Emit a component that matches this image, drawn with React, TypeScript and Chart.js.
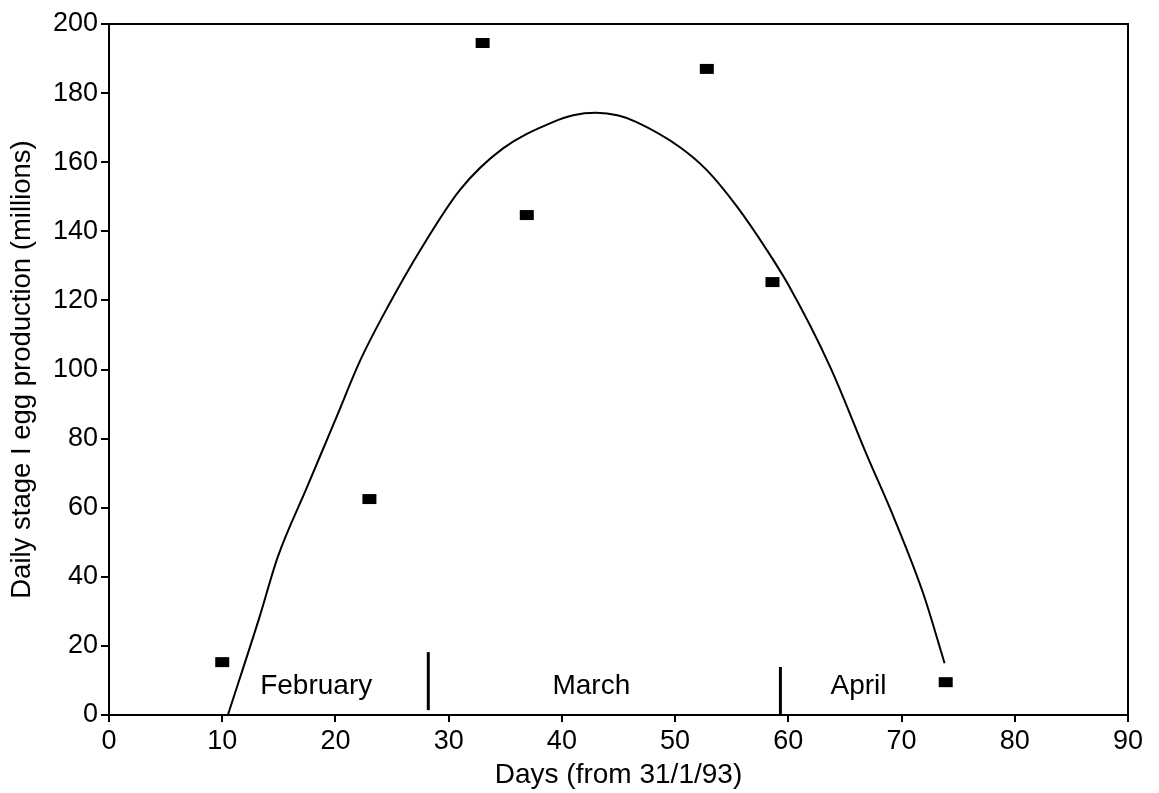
import React, { useEffect, useRef } from 'react';
import { Chart, registerables } from 'chart.js';

Chart.register(...registerables);

// Observed data points (day, daily stage I egg production in millions)
const pointDays = [10, 23, 33, 36.9, 52.8, 58.6, 73.9];
const pointProduction = [15.3, 62.5, 194.5, 144.7, 187, 125.3, 9.5];

// Fitted curve
const curveDays = [10.5, 13.3, 14.9, 17.5, 20.1, 22.2, 24.6, 27.5, 31.0, 34.8, 39.2, 41.0, 43.0, 45.0, 46.6, 50.4, 52.8, 55.5, 58.1, 60.0, 63.7, 67.0, 69.3, 71.9, 73.8];
const curveProduction = [0, 28.4, 45.7, 66, 86.3, 102.7, 118, 134.6, 152, 164, 171.6, 173.6, 174.3, 173.5, 171.6, 164.4, 157.7, 147, 134.6, 124.5, 100.7, 74.7, 57.3, 35.3, 15];

// Month annotations
const monthNames = ['February', 'March', 'April'];
const monthLabelDays = [18.3, 42.6, 66.2];
const monthLabelLevel = 6;
const dividerDays = [28.2, 59.3];
const dividerBottoms = [1.4, 0];
const dividerTops = [18.2, 13.9];

// Axes
const xMin = 0, xMax = 90, xStep = 10;
const yMin = 0, yMax = 200, yStep = 20;
const xTitle = 'Days (from 31/1/93)';
const yTitle = 'Daily stage I egg production (millions)';

const FONT = '"Liberation Sans", Arial, Helvetica, sans-serif';

const framePlugin = {
  id: 'frameAndMonths',
  afterDraw(chart: any) {
    const { ctx, chartArea, scales } = chart;
    const { left, top, right, bottom } = chartArea;
    ctx.save();
    ctx.strokeStyle = '#000';
    ctx.lineWidth = 2;
    ctx.beginPath();
    ctx.moveTo(left, top);
    ctx.lineTo(right, top);
    ctx.lineTo(right, bottom);
    ctx.stroke();
    ctx.font = `28px ${FONT}`;
    ctx.fillStyle = '#000';
    ctx.textAlign = 'center';
    ctx.textBaseline = 'alphabetic';
    monthNames.forEach((m, i) => {
      ctx.fillText(m, scales.x.getPixelForValue(monthLabelDays[i]), scales.y.getPixelForValue(monthLabelLevel));
    });
    ctx.restore();
  },
};

export default function App() {
  const ref = useRef<HTMLCanvasElement | null>(null);

  useEffect(() => {
    if (!ref.current) return;
    const dividerSets = dividerDays.map((d, i) => ({
      type: 'line' as const,
      data: [
        { x: d, y: dividerBottoms[i] },
        { x: d, y: dividerTops[i] },
      ],
      borderColor: '#000',
      borderWidth: 3,
      pointRadius: 0,
      fill: false,
    }));
    const chart = new Chart(ref.current, {
      type: 'line',
      data: {
        datasets: [
          {
            type: 'line',
            data: curveDays.map((d, i) => ({ x: d, y: curveProduction[i] })),
            borderColor: '#000',
            borderWidth: 2,
            pointRadius: 0,
            cubicInterpolationMode: 'monotone',
            fill: false,
          },
          {
            type: 'scatter',
            data: pointDays.map((d, i) => ({ x: d, y: pointProduction[i] })),
            pointStyle: 'line',
            pointRadius: 7,
            borderWidth: 10,
            borderColor: '#000',
            backgroundColor: '#000',
            showLine: false,
          },
          ...dividerSets,
        ] as any,
      },
      options: {
        animation: false,
        responsive: false,
        events: [],
        layout: { padding: { left: 0, right: 31, top: 24, bottom: 0 } },
        plugins: { legend: { display: false }, tooltip: { enabled: false } },
        scales: {
          x: {
            type: 'linear',
            min: xMin,
            max: xMax,
            afterFit: (s: any) => { s.height = 78; },
            ticks: { stepSize: xStep, color: '#000', font: { size: 27, family: FONT }, padding: 3, maxRotation: 0 },
            grid: { display: true, drawOnChartArea: false, drawTicks: true, tickLength: 7, color: '#000', lineWidth: 2 },
            border: { display: true, color: '#000', width: 2 },
            title: { display: true, text: xTitle, color: '#000', font: { size: 28, family: FONT }, padding: { top: 0, bottom: 1 } },
          },
          y: {
            type: 'linear',
            min: yMin,
            max: yMax,
            afterFit: (s: any) => { s.width = 109; },
            ticks: { stepSize: yStep, color: '#000', font: { size: 27, family: FONT }, padding: 3 },
            grid: { display: true, drawOnChartArea: false, drawTicks: true, tickLength: 8, color: '#000', lineWidth: 2 },
            border: { display: true, color: '#000', width: 2 },
            title: { display: true, text: yTitle, color: '#000', font: { size: 27.5, family: FONT }, padding: { top: 6, bottom: 0 } },
          },
        },
      } as any,
      plugins: [framePlugin],
    });
    return () => chart.destroy();
  }, []);

  return (
    <div style={{ position: 'absolute', left: 0, top: 0, width: 1159, height: 793, background: '#fff' }}>
      <canvas ref={ref} width={1159} height={793} />
    </div>
  );
}
